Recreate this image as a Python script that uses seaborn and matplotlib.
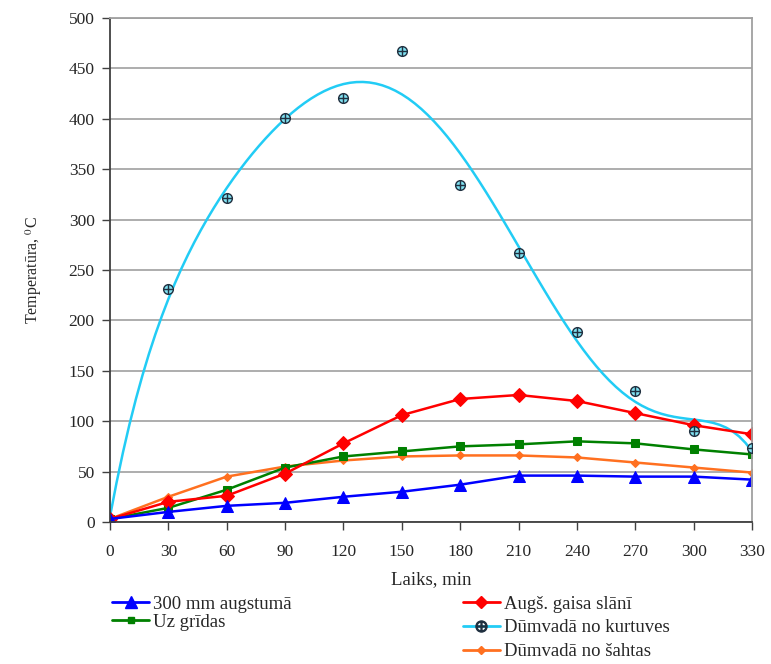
import numpy as np
import pandas as pd
from matplotlib import pyplot as plt
from matplotlib.lines import Line2D
import seaborn as sns

sns.set_style("white")
plt.rcParams['font.family'] = ['Liberation Serif', 'DejaVu Serif']
plt.rcParams['mathtext.fontset'] = 'stix'

# laiks, min
laiks = [0, 30, 60, 90, 120, 150, 180, 210, 240, 270, 300, 330]

# temperatūras, C
augstuma_300 = [3, 10, 16, 19, 25, 30, 37, 46, 46, 45, 45, 42]
augs_gaisa = [3, 20, 26, 48, 78, 106, 122, 126, 120, 108, 96, 87]
uz_gridas = [3, 14, 32, 54, 65, 70, 75, 77, 80, 78, 72, 67]
kurtuves = [3, 231, 321, 401, 421, 467, 334, 267, 188, 130, 90, 73]
sahtas = [3, 25, 45, 55, 61, 65, 66, 66, 64, 59, 54, 49]

names = ["300 mm augstumā", "Augš. gaisa slānī", "Uz grīdas",
         "Dūmvadā no kurtuves", "Dūmvadā no šahtas"]

c_blue, c_red, c_green = '#0000FF', '#FF0000', '#008000'
c_cyan, c_orange = '#22CCF5', '#FF7020'

fig = plt.figure(figsize=(7.71, 6.64), dpi=100)
ax = fig.add_axes([0.1427, 0.2139, 0.8327, 0.759])

df = pd.DataFrame({"laiks": laiks, "kurtuves": kurtuves})

# dūmvadā no kurtuves - polinoma trendlīnija + punkti
sns.regplot(data=df, x="laiks", y="kurtuves", order=6, ci=None, scatter=False,
            color=c_cyan, line_kws=dict(lw=1.8), ax=ax)

series = [
    (sahtas, c_orange, 'D', 4),
    (uz_gridas, c_green, 's', 6),
    (augs_gaisa, c_red, 'D', 7),
    (augstuma_300, c_blue, '^', 9),
]
for vals, col, mk, ms in series:
    sns.lineplot(x=laiks, y=vals, color=col, marker=mk, markersize=ms,
                 markeredgecolor=col, lw=1.8, ax=ax)

ax.plot(laiks[1:], kurtuves[1:], ls='none', marker='o', ms=7,
        mfc='#7FE0F0', mec='#203040', mew=1.0, zorder=5)
ax.plot(laiks[1:], kurtuves[1:], ls='none', marker='+', ms=7,
        mec='#203040', mew=1.0, zorder=6)

ax.set_xlim(0, 330)
ax.set_ylim(0, 500)
ax.set_xticks(range(0, 331, 30))
ax.set_yticks(range(0, 501, 50))
ax.yaxis.grid(True, color='#A0A0A0', lw=1.2)
ax.xaxis.grid(False)
ax.tick_params(axis='both', direction='out', length=6, width=1, color='#404040',
               labelsize=12.5, left=True, bottom=True)
ax.tick_params(axis='x', pad=10)
ax.tick_params(axis='y', pad=5)
for s in ['left', 'bottom']:
    ax.spines[s].set_color('#404040')
    ax.spines[s].set_linewidth(1.3)
for s in ['top', 'right']:
    ax.spines[s].set_color('#A0A0A0')
    ax.spines[s].set_linewidth(1.3)

ax.set_xlabel("Laiks, min", fontsize=13.5, labelpad=8)
ax.set_ylabel("Temperatūra, $^0$C", fontsize=11.5, labelpad=18)

h_blue = Line2D([], [], color=c_blue, lw=2, marker='^', ms=8, mec=c_blue)
h_green = Line2D([], [], color=c_green, lw=2, marker='s', ms=5, mec=c_green)
h_red = Line2D([], [], color=c_red, lw=2, marker='D', ms=6, mec=c_red)
h_cyan = Line2D([], [], color=c_cyan, lw=2, marker='$\\oplus$', ms=8,
                mec='#203040', mfc='#203040')
h_orange = Line2D([], [], color=c_orange, lw=2, marker='D', ms=4, mec=c_orange)

leg1 = fig.legend([h_blue, h_green], [names[0], names[2]],
                  loc='upper left', bbox_to_anchor=(0.145, 0.103),
                  frameon=False, fontsize=13.5,
                  handlelength=2.0, handletextpad=0.2, labelspacing=0.05,
                  borderaxespad=0, borderpad=0)
leg2 = fig.legend([h_red, h_cyan, h_orange], [names[1], names[3], names[4]],
                  loc='upper left', bbox_to_anchor=(0.6, 0.103),
                  frameon=False, fontsize=13.5,
                  handlelength=2.0, handletextpad=0.2, labelspacing=0.35,
                  borderaxespad=0, borderpad=0)

fig.savefig("out.png", dpi=100)
